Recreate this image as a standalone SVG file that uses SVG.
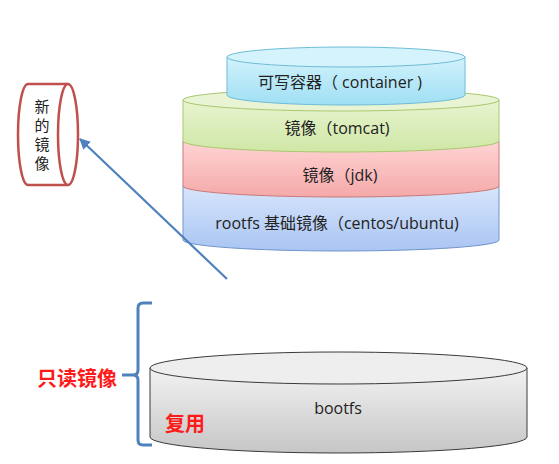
<svg xmlns="http://www.w3.org/2000/svg" width="559" height="464" viewBox="0 0 559 464">
<defs>
<linearGradient id="gCont" x1="0" y1="0" x2="0" y2="1"><stop offset="0" stop-color="#d2f2fc"/><stop offset="1" stop-color="#9fdff4"/></linearGradient>
<linearGradient id="gGreen" x1="0" y1="0" x2="0" y2="1"><stop offset="0" stop-color="#e8f4d0"/><stop offset="1" stop-color="#cfe7a6"/></linearGradient>
<linearGradient id="gRed" x1="0" y1="0" x2="0" y2="1"><stop offset="0" stop-color="#ffd4d4"/><stop offset="1" stop-color="#f5a9a9"/></linearGradient>
<linearGradient id="gBlue" x1="0" y1="0" x2="0" y2="1"><stop offset="0" stop-color="#d8e5fb"/><stop offset="1" stop-color="#a9c5f3"/></linearGradient>
<linearGradient id="gGray" x1="0" y1="0" x2="0" y2="1"><stop offset="0" stop-color="#f2f2f2"/><stop offset="1" stop-color="#c6c6c6"/></linearGradient>
<marker id="arr" viewBox="0 0 10 10" refX="9" refY="5" markerWidth="5" markerHeight="5" orient="auto"><path d="M0,0 L10,5 L0,10 z" fill="#4f81bd"/></marker>
</defs>
<style>
.t{font-family:"Open Sans","Noto Sans CJK SC",sans-serif;font-size:16px;fill:#222;text-anchor:middle;dominant-baseline:central}
.v{font-family:"Noto Sans CJK SC",sans-serif;font-size:15px;fill:#222;text-anchor:middle;dominant-baseline:central}
.r{font-family:"Noto Sans CJK SC",sans-serif;font-size:20px;font-weight:bold;fill:#ff1a1a;dominant-baseline:central}
</style>
<rect width="559" height="464" fill="#ffffff"/>

<g id="rootfs">
<path d="M183,186 L183,240 A158,11 0 0 0 499,240 L499,186 Z" fill="url(#gBlue)" stroke="#7094c9" stroke-width="1"/>
<text class="t" x="337" y="223">rootfs 基础镜像（centos/ubuntu)</text>
</g>
<g id="jdk">
<path d="M183,141 L183,186 A158,11 0 0 0 499,186 L499,141 Z" fill="url(#gRed)" stroke="#c97a7a" stroke-width="1"/>
<text class="t" x="340" y="175">镜像（jdk)</text>
</g>
<g id="tomcat">
<path d="M183,100 L183,141 A158,11 0 0 0 499,141 L499,100 Z" fill="url(#gGreen)" stroke="#a9c86e" stroke-width="1"/>
<ellipse cx="341" cy="100" rx="158" ry="11" fill="#e9f4d4" stroke="#a9c86e" stroke-width="1"/>
<text class="t" x="337" y="128">镜像（tomcat)</text>
</g>
<g id="container">
<path d="M227,57 L227,95 A119,10 0 0 0 465,95 L465,57 Z" fill="url(#gCont)" stroke="#6fbcd6" stroke-width="1"/>
<ellipse cx="346" cy="57" rx="119" ry="10" fill="#d4f3fc" stroke="#6fbcd6" stroke-width="1"/>
<text class="t" x="340" y="82">可写容器（ container )</text>
</g>

<g id="new-image">
<path d="M68,84 L28,84 A10,50.5 0 0 0 28,185 L68,185" fill="#ffffff" stroke="#c0504d" stroke-width="2.5"/>
<ellipse cx="68" cy="134.5" rx="10" ry="50.5" fill="#ffffff" stroke="#c0504d" stroke-width="2.5"/>
<text class="v" x="42" y="105">新</text>
<text class="v" x="42" y="124">的</text>
<text class="v" x="42" y="143">镜</text>
<text class="v" x="42" y="162">像</text>
</g>

<g id="bootfs">
<path d="M150,368 L150,437 A188.5,16 0 0 0 527,437 L527,368 Z" fill="url(#gGray)" stroke="#3a3a3a" stroke-width="1"/>
<ellipse cx="338.5" cy="368" rx="188.5" ry="16" fill="#eeeeee" stroke="#3a3a3a" stroke-width="1"/>
<text class="t" x="338" y="408">bootfs</text>
<text class="r" x="165" y="422">复用</text>
</g>

<g id="readonly">
<text class="r" x="37" y="377">只读镜像</text>
</g>

<g id="connectors" fill="none" stroke="#4f81bd">
<line x1="227" y1="279" x2="80" y2="139" stroke-width="2.2" marker-end="url(#arr)"/>
<path d="M152,303 L143,303 Q138,303 138,308 L138,370 Q138,375 133,375 L122,375 M133,375 Q138,375 138,380 L138,440 Q138,445 143,445 L152,445" stroke-width="3"/>
</g>
</svg>
